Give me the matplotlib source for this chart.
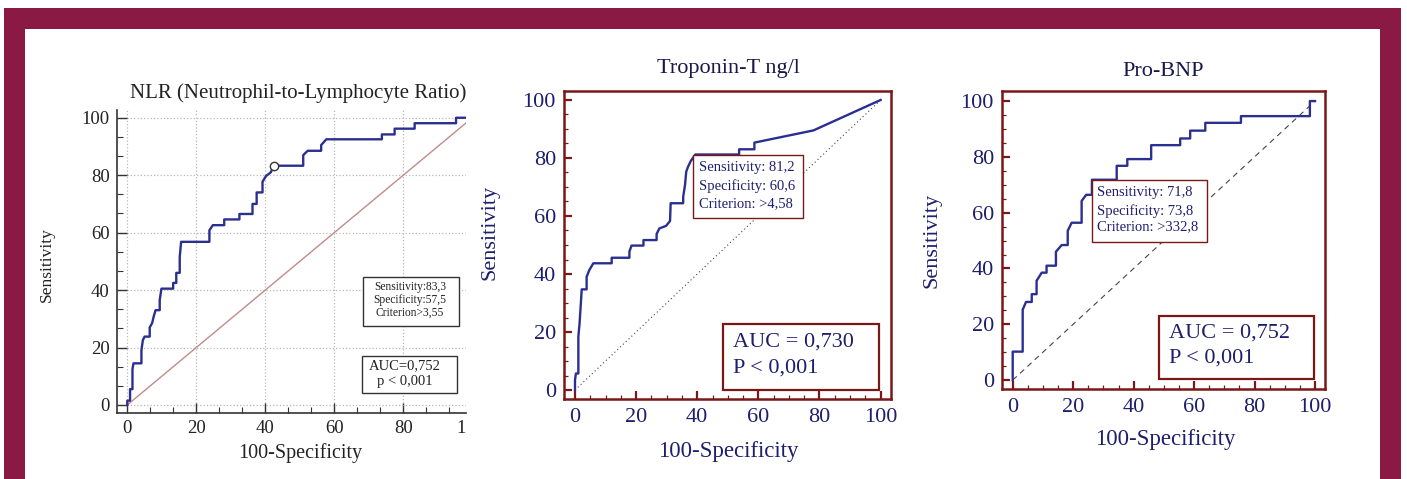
import matplotlib
matplotlib.use("Agg")
import matplotlib.pyplot as plt
from matplotlib.patches import Rectangle
from matplotlib.ticker import MultipleLocator

W, H = 1407, 479

plt.rcParams['font.family'] = ['Liberation Serif', 'DejaVu Serif']

FRAME = '#8A1A44'
MAROON = '#7A1818'
NAVY = '#2B2F8F'
NAVY_TXT = '#1E1E6E'
GREY_TXT = '#222222'

# ROC curves: x = 100-Specificity, y = Sensitivity
NLR_X = [0, 0, 0.8, 0.8, 1.5, 1.5, 1.8, 4.1, 4.1, 4.5, 5.0, 6.5, 6.5, 7.2, 7.7, 8.2,
         9.4, 9.4, 9.9, 13.3, 13.3, 14.2, 14.2, 15.2, 15.2, 15.6, 23.8, 23.8, 24.8,
         28.1, 28.1, 32.5, 32.5, 36.3, 36.3, 37.5, 37.5, 39.2, 39.2, 40.2, 41.6, 42.5,
         51.0, 51.0, 52.3, 56.2, 56.2, 57.7, 73.8, 73.8, 77.5, 77.5, 83.3, 83.3, 95.3,
         95.3, 100]
NLR_Y = [0, 1.5, 1.5, 5.5, 5.5, 12.5, 14.5, 14.5, 19.0, 22.5, 23.8, 23.8, 27.0, 28.5,
         31.0, 33.0, 33.0, 36.5, 40.5, 40.5, 42.5, 42.5, 46.0, 46.0, 51.5, 56.8, 56.8,
         60.8, 62.6, 62.6, 64.6, 64.6, 66.5, 66.5, 70.0, 70.0, 74.0, 74.0, 77.7, 79.7,
         81.0, 83.3, 83.3, 87.0, 88.5, 88.5, 90.5, 92.5, 92.5, 94.2, 94.2, 96.2, 96.2,
         98.1, 98.1, 100, 100]

TROP_X = [0, 0, 0.3, 1.1, 1.1, 1.5, 2.2, 3.8, 3.8, 4.7, 6.0, 12.0, 12.0, 17.8, 17.8,
          18.5, 22.4, 22.4, 26.7, 26.7, 27.6, 29.8, 31.1, 31.3, 35.4, 35.4, 36.0, 36.4,
          37.0, 37.9, 39.4, 53.7, 53.7, 58.7, 58.7, 78.0, 100]
TROP_Y = [0, 3.4, 5.7, 5.7, 18.4, 23.0, 34.7, 34.7, 39.0, 41.4, 43.7, 43.7, 45.6, 45.6,
          47.7, 49.8, 49.8, 51.7, 51.7, 53.8, 55.7, 56.6, 58.3, 64.4, 64.4, 66.6, 70.7,
          75.3, 77.0, 79.0, 81.2, 81.2, 83.0, 83.0, 85.3, 89.5, 100]

BNP_X = [0, 0, 3.3, 3.3, 4.4, 6.3, 6.3, 7.9, 7.9, 9.6, 11.2, 11.2, 14.3, 14.3, 16.2,
         18.2, 18.2, 19.5, 22.8, 22.8, 24.3, 26.2, 26.2, 34.4, 34.4, 37.9, 37.9, 45.8,
         45.8, 55.4, 55.4, 58.7, 58.7, 63.7, 63.7, 75.5, 75.5, 98.3, 98.3, 100]
BNP_Y = [0, 10.2, 10.2, 25.2, 28.0, 28.0, 30.8, 30.8, 35.6, 38.5, 38.5, 41.0, 41.0, 46.0,
         48.4, 48.4, 53.5, 56.4, 56.4, 64.2, 66.4, 66.4, 71.8, 71.8, 76.8, 76.8, 79.2,
         79.2, 84.2, 84.2, 86.6, 86.6, 89.4, 89.4, 92.2, 92.2, 94.6, 94.6, 100, 100]

TITLES = ['NLR (Neutrophil-to-Lymphocyte Ratio)', 'Troponin-T ng/l', 'Pro-BNP']
NLR_CUT = ['Sensitivity:83,3', 'Specificity:57,5', 'Criterion>3,55']
NLR_AUC = ['AUC=0,752', 'p < 0,001']
NLR_POINT = (42.5, 83.3)
TROP_CUT = ['Sensitivity: 81,2', 'Specificity: 60,6', 'Criterion: >4,58']
TROP_AUC = ['AUC = 0,730', 'P < 0,001']
BNP_CUT = ['Sensitivity: 71,8', 'Specificity: 73,8', 'Criterion: >332,8']
BNP_AUC = ['AUC = 0,752', 'P < 0,001']


def px_axes(x0, x1, y0, y1):
    # pixel box (top-left origin) -> figure fraction rect
    return [x0 / W, 1 - y1 / H, (x1 - x0) / W, (y1 - y0) / H]


def fig_text(fig, x, y, s, **kw):
    fig.text(x / W, 1 - y / H, s, ha='center', va='center', **kw)


fig = plt.figure(figsize=(W / 100, H / 100), dpi=100)

# maroon frame
fig.patches.append(Rectangle((4 / W, 0), 1397 / W, 471 / H, transform=fig.transFigure,
                             facecolor=FRAME, edgecolor='none', zorder=-10))
fig.patches.append(Rectangle((25 / W, 0), 1355 / W, 450 / H, transform=fig.transFigure,
                             facecolor='white', edgecolor='none', zorder=-9))

# ---------- panel 1: NLR ----------
ax1 = fig.add_axes(px_axes(116.7, 465.7, 110, 413.3))
ax1.set_facecolor('white')
ax1.plot([0, 100], [0, 100], color='#C48A8A', lw=1.0, zorder=2)
ax1.plot(NLR_X, NLR_Y, color=NAVY, lw=1.7, zorder=3)
ax1.plot(*NLR_POINT, 'o', ms=6, mfc='white', mec='#333333', mew=1.0, zorder=4)
ax1.set_xlim(-3.07, 98.1)
ax1.set_ylim(-2.9, 102.7)
ax1.set_xticks([0, 20, 40, 60, 80])
ax1.set_yticks([0, 20, 40, 60, 80, 100])
ax1.xaxis.set_minor_locator(MultipleLocator(20 / 3))
ax1.yaxis.set_minor_locator(MultipleLocator(20 / 3))
ax1.grid(True, which='major', color='#B8B8B8', linestyle=':', lw=0.9)
for s in ['top', 'right']:
    ax1.spines[s].set_visible(False)
for s in ['left', 'bottom']:
    ax1.spines[s].set_color('#333333')
    ax1.spines[s].set_linewidth(1.2)
ax1.tick_params(which='major', direction='in', length=7, width=1.0, color='#333333',
                labelcolor=GREY_TXT, labelsize=13.5, pad=5)
ax1.tick_params(which='minor', direction='in', length=4, width=0.8, color='#333333')
ax1.text(96.9, -0.05, '1', transform=ax1.get_xaxis_transform(), ha='center', va='center',
         fontsize=13.5, color=GREY_TXT)

ax1.add_patch(Rectangle((68.2, 27.5), 28.0, 17.2, facecolor='white', edgecolor='#333333',
                        lw=1.0, zorder=5))
for yy, s in zip([41.2, 36.5, 32.1], NLR_CUT):
    ax1.text(82.0, yy, s, ha='center', va='center', fontsize=8.3, color=GREY_TXT, zorder=6)
ax1.add_patch(Rectangle((67.9, 4.1), 27.6, 13.0, facecolor='white', edgecolor='#333333',
                        lw=1.0, zorder=5))
for yy, s in zip([13.6, 8.1], NLR_AUC):
    ax1.text(80.5, yy, s, ha='center', va='center', fontsize=10.5, color=GREY_TXT, zorder=6)

fig_text(fig, 298, 93, TITLES[0], fontsize=15, color=GREY_TXT)
fig_text(fig, 300, 453, '100-Specificity', fontsize=14.5, color=GREY_TXT)
fig_text(fig, 47, 265, 'Sensitivity', fontsize=12.5, color=GREY_TXT, rotation=90)


# ---------- panels 2 and 3 ----------
def boxed_panel(rect, xs, ys, diag_style, cut_box, cut_text_x, cut_text_y, cut_lines,
                auc_box, auc_text_x, auc_text_y, auc_lines, xlim, ylim):
    ax = fig.add_axes(px_axes(*rect))
    ax.set_facecolor('white')
    ax.plot([0, 100], [0, 100], color='#444444', lw=0.8, linestyle=diag_style, zorder=2)
    ax.plot(xs, ys, color=NAVY, lw=1.7, zorder=3)
    ax.set_xlim(*xlim)
    ax.set_ylim(*ylim)
    ax.set_xticks([0, 20, 40, 60, 80, 100])
    ax.set_yticks([0, 20, 40, 60, 80, 100])
    ax.xaxis.set_minor_locator(MultipleLocator(5))
    ax.yaxis.set_minor_locator(MultipleLocator(5))
    for s in ax.spines.values():
        s.set_color(MAROON)
        s.set_linewidth(1.8)
    ax.tick_params(which='major', direction='in', length=6, width=1.6, color=MAROON,
                   labelcolor=NAVY_TXT, labelsize=16, pad=6)
    ax.tick_params(which='minor', direction='in', length=3, width=0.9, color=MAROON)

    x0, x1, y0, y1 = cut_box
    ax.add_patch(Rectangle((x0, y0), x1 - x0, y1 - y0, facecolor='white', edgecolor=MAROON,
                           lw=1.0, zorder=5))
    for yy, s in zip(cut_text_y, cut_lines):
        ax.text(cut_text_x, yy, s, ha='left', va='center', fontsize=10.5, color=NAVY_TXT,
                zorder=6)
    x0, x1, y0, y1 = auc_box
    ax.add_patch(Rectangle((x0, y0), x1 - x0, y1 - y0, facecolor='white', edgecolor=MAROON,
                           lw=1.6, zorder=5))
    for yy, s in zip(auc_text_y, auc_lines):
        ax.text(auc_text_x, yy, s, ha='left', va='center', fontsize=16, color=NAVY_TXT,
                zorder=6)
    return ax


ax2 = boxed_panel((564.3, 891, 90.7, 399.3), TROP_X, TROP_Y, (0, (1, 2.5)),
                  (38.7, 74.7, 59.2, 81.2), 40.7, [76.8, 70.3, 64.1], TROP_CUT,
                  (48.3, 99.5, 0.0, 22.8), 51.7, [16.4, 7.5], TROP_AUC,
                  (-3.5, 103.4), (-3.2, 103.2))
fig_text(fig, 728, 68, TITLES[1], fontsize=16, color='#18184A')
fig_text(fig, 728, 452, '100-Specificity', fontsize=16.5, color=NAVY_TXT)
fig_text(fig, 490, 232, 'Sensitivity', fontsize=16, color=NAVY_TXT, rotation=90)

ax3 = boxed_panel((1002.3, 1325, 91.3, 389.3), BNP_X, BNP_Y, (0, (5, 4)),
                  (26.3, 64.2, 49.6, 71.7), 27.8, [67.1, 60.7, 54.9], BNP_CUT,
                  (48.5, 99.8, 0.4, 23.0), 51.8, [17.0, 7.8], BNP_AUC,
                  (-3.44, 103.3), (-3.3, 103.5))
fig_text(fig, 1163, 71, TITLES[2], fontsize=16, color='#18184A')
fig_text(fig, 1165, 440, '100-Specificity', fontsize=16.5, color=NAVY_TXT)
fig_text(fig, 932, 240, 'Sensitivity', fontsize=16, color=NAVY_TXT, rotation=90)

fig.savefig('out.png', dpi=100, facecolor='white')
